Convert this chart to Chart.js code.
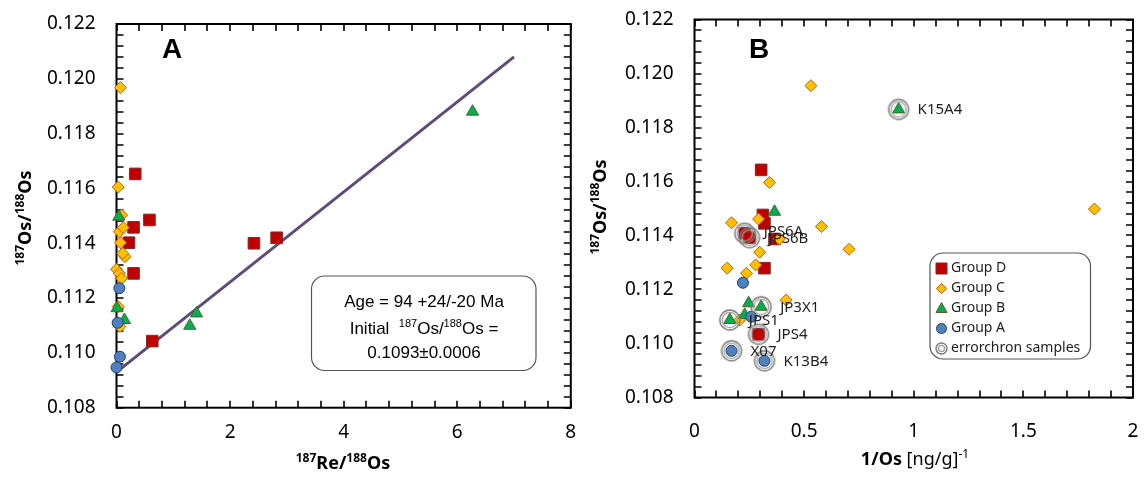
<!DOCTYPE html>
<html>
<head>
<meta charset="utf-8">
<script src="https://cdn.jsdelivr.net/npm/chart.js@4.4.1/dist/chart.umd.min.js"></script>
<style>
  body { margin: 0; background: #fff; }
  .wrap { position: absolute; top: 0; height: 479px; }
  #wrapA { left: 0; width: 580px; }
  #wrapB { left: 580px; width: 564px; }
</style>
</head>
<body>
<div class="wrap" id="wrapA"><canvas id="chartA" width="580" height="479"></canvas></div>
<div class="wrap" id="wrapB"><canvas id="chartB" width="564" height="479"></canvas></div>
<script>
// ---- panel A : 187Re/188Os vs 187Os/188Os ----
var aGroupD_re = [0.33, 0.58, 0.30, 0.22, 0.30, 0.63, 2.42, 2.82];
var aGroupD_os = [0.11653, 0.11485, 0.11458, 0.11402, 0.11290, 0.11043, 0.11400, 0.11420];
var aGroupC_re = [0.07, 0.03, 0.09, 0.05, 0.12, 0.07, 0.15, 0.11, 0.00, 0.05, 0.09, 0.03, 0.06];
var aGroupC_os = [0.11968, 0.11605, 0.11503, 0.11442, 0.11457, 0.11402, 0.11351, 0.11363, 0.11305, 0.11290, 0.11272, 0.11169, 0.11096];
var aGroupB_re = [0.04, 0.01, 0.14, 1.41, 1.29, 6.27];
var aGroupB_os = [0.11497, 0.11163, 0.11120, 0.11144, 0.11099, 0.11880];
var aGroupA_re = [0.05, 0.02, 0.06, 0.00];
var aGroupA_os = [0.11236, 0.11110, 0.10986, 0.10947];
var errorchronRe = [0, 7];
var errorchronOs = [0.1093, 0.1208];

// ---- panel B : 1/Os vs 187Os/188Os ----
var bGroupD_x = [0.304, 0.312, 0.319, 0.229, 0.251, 0.365, 0.319, 0.292];
var bGroupD_y = [0.11643, 0.11476, 0.11445, 0.11408, 0.11392, 0.11387, 0.11279, 0.11034];
var bGroupC_x = [0.531, 0.342, 0.169, 0.292, 0.579, 0.705, 0.387, 0.297, 0.149, 0.279, 0.237, 0.418, 0.206, 1.824];
var bGroupC_y = [0.11955, 0.11596, 0.11447, 0.11461, 0.11433, 0.11349, 0.11387, 0.11338, 0.11279, 0.11291, 0.11260, 0.11161, 0.11087, 0.11498];
var bGroupB_x = [0.365, 0.247, 0.304, 0.161, 0.229, 0.931];
var bGroupB_y = [0.11488, 0.11149, 0.11136, 0.11087, 0.11106, 0.11867];
var bGroupA_x = [0.221, 0.259, 0.169, 0.319];
var bGroupA_y = [0.11225, 0.11099, 0.10973, 0.10936];
var sampleNames = ['JPS6A', 'JPS6B', 'JP3X1', 'JPS1', 'JPS4', 'X07', 'K13B4', 'K15A4'];
var sampleX = [0.229, 0.251, 0.304, 0.161, 0.292, 0.169, 0.319, 0.931];
var sampleY = [0.11408, 0.11392, 0.11136, 0.11087, 0.11034, 0.10973, 0.10936, 0.11867];

var yTicksOs = [0.108, 0.122, 0.002];
var xMinorA = 0.4, xMinorB = 0.1, yMinorOs = 0.0004;

var SANS = "'Noto Sans', sans-serif";
var ARIAL = "'Liberation Sans', Arial, sans-serif";

function pts(xs, ys) {
  return xs.map(function (x, i) { return { x: x, y: ys[i] }; });
}

function drawRing(g, x, y, r) {
  g.lineWidth = 1.4;
  g.strokeStyle = '#7a7a7a';
  g.beginPath(); g.arc(x, y, r, 0, Math.PI * 2); g.stroke();
  g.strokeStyle = '#a0a0a0';
  g.beginPath(); g.arc(x, y, r - 2.4, 0, Math.PI * 2); g.stroke();
}

function makeRing(r) {
  var c = document.createElement('canvas');
  var s = Math.ceil(r * 2 + 4);
  c.width = s; c.height = s;
  drawRing(c.getContext('2d'), s / 2, s / 2, r);
  return c;
}

function partFont(p, size, family, bold) {
  var b = (p.bold !== undefined ? p.bold : bold) ? 'bold ' : '';
  return b + (p.sup ? Math.round(size * 0.65) : size) + 'px ' + family;
}

// text with superscripts, centred on (cx, cy)
function drawRich(ctx, parts, cx, cy, size, family, bold, rot) {
  ctx.save();
  ctx.translate(cx, cy);
  if (rot) ctx.rotate(rot);
  ctx.textAlign = 'left';
  ctx.textBaseline = 'alphabetic';
  ctx.fillStyle = '#000';
  var w = 0;
  parts.forEach(function (p) { ctx.font = partFont(p, size, family, bold); w += ctx.measureText(p.t).width; });
  var x = -w / 2;
  parts.forEach(function (p) {
    ctx.font = partFont(p, size, family, bold);
    ctx.fillText(p.t, x, size * 0.36 - (p.sup ? size * 0.4 : 0));
    x += ctx.measureText(p.t).width;
  });
  ctx.restore();
}

function roundBox(ctx, x0, y0, x1, y1, r) {
  ctx.beginPath();
  ctx.moveTo(x0 + r, y0);
  ctx.arcTo(x1, y0, x1, y1, r);
  ctx.arcTo(x1, y1, x0, y1, r);
  ctx.arcTo(x0, y1, x0, y0, r);
  ctx.arcTo(x0, y0, x1, y0, r);
  ctx.closePath();
  ctx.fillStyle = '#fff';
  ctx.fill();
  ctx.strokeStyle = '#555';
  ctx.lineWidth = 1.2;
  ctx.stroke();
}

function legendMarker(ctx, ds, x, y) {
  ctx.save();
  ctx.fillStyle = ds.backgroundColor;
  ctx.strokeStyle = ds.borderColor;
  ctx.lineWidth = 1;
  ctx.beginPath();
  if (ds.pointStyle === 'rect') {
    ctx.rect(x - 5.5, y - 5.5, 11, 11);
  } else if (ds.pointStyle === 'rectRot') {
    ctx.moveTo(x, y - 5); ctx.lineTo(x + 5, y); ctx.lineTo(x, y + 5); ctx.lineTo(x - 5, y);
    ctx.closePath();
  } else if (ds.pointStyle === 'triangle') {
    ctx.moveTo(x, y - 6); ctx.lineTo(x + 5.5, y + 4); ctx.lineTo(x - 5.5, y + 4);
    ctx.closePath();
  } else if (ds.pointStyle === 'circle') {
    ctx.arc(x, y, 5, 0, Math.PI * 2);
  } else {
    drawRing(ctx, x, y, 5.5);
    ctx.restore();
    return;
  }
  ctx.fill();
  ctx.stroke();
  ctx.restore();
}

// box frame with inward ticks on all four sides
function drawFrame(chart, xMinor, yMinor) {
  var ctx = chart.ctx, a = chart.chartArea;
  var xs = chart.scales.x, ys = chart.scales.y;
  var nx = Math.round((xs.max - xs.min) / xMinor);
  var ny = Math.round((ys.max - ys.min) / yMinor);
  ctx.save();
  ctx.strokeStyle = '#000';
  ctx.lineWidth = 1.6;
  ctx.beginPath();
  for (var i = 0; i <= nx; i++) {
    var px = Math.round(xs.getPixelForValue(xs.min + i * xMinor));
    ctx.moveTo(px, a.bottom); ctx.lineTo(px, a.bottom - 7);
    ctx.moveTo(px, a.top); ctx.lineTo(px, a.top + 7);
  }
  for (var j = 0; j <= ny; j++) {
    var py = Math.round(ys.getPixelForValue(ys.min + j * yMinor));
    ctx.moveTo(a.left, py); ctx.lineTo(a.left + 7, py);
    ctx.moveTo(a.right, py); ctx.lineTo(a.right - 7, py);
  }
  ctx.stroke();
  ctx.lineWidth = 2;
  ctx.strokeRect(a.left, a.top, a.right - a.left, a.bottom - a.top);
  ctx.restore();
}

var decor = {
  id: 'decor',
  beforeDatasetsDraw: function (chart) {
    var isA = chart.canvas.id === 'chartA';
    drawFrame(chart, isA ? xMinorA : xMinorB, yMinorOs);
  },
  afterDatasetsDraw: function (chart, args, o) {
    var ctx = chart.ctx;
    var xs = chart.scales.x, ys = chart.scales.y;
    ctx.save();
    // panel letter
    ctx.font = 'bold 28px ' + ARIAL;
    ctx.fillStyle = '#000';
    ctx.textAlign = 'center';
    ctx.textBaseline = 'middle';
    ctx.fillText(o.letter.text, o.letter.x, o.letter.y);
    // axis titles
    o.titles.forEach(function (t) {
      drawRich(ctx, t.parts, t.x, t.y, 18, SANS, true, t.rot);
    });
    // age box
    if (o.note) {
      var n = o.note;
      roundBox(ctx, n.box[0], n.box[1], n.box[2], n.box[3], 13);
      n.lines.forEach(function (ln, k) {
        drawRich(ctx, ln, n.cx, n.ys[k], 17, ARIAL, false, 0);
      });
    }
    // sample labels
    if (o.labels) {
      ctx.font = '15px ' + SANS;
      ctx.fillStyle = '#222';
      ctx.textAlign = 'left';
      ctx.textBaseline = 'middle';
      o.labels.names.forEach(function (name, k) {
        var dy = name === 'JPS6A' ? -2 : (name === 'JPS6B' ? 1.5 : 0.5);
        ctx.fillText(name, xs.getPixelForValue(o.labels.x[k]) + 19, ys.getPixelForValue(o.labels.y[k]) + dy);
      });
    }
    // legend box
    if (o.legendBox) {
      var L = o.legendBox;
      roundBox(ctx, L.x0, L.y0, L.x1, L.y1, 13);
      var list = chart.data.datasets.slice().reverse();
      ctx.font = '14px ' + SANS;
      list.forEach(function (ds, k) {
        var y = L.y0 + 15.5 + k * 20;
        legendMarker(ctx, ds, L.x0 + 11.5, y);
        ctx.fillStyle = '#222';
        ctx.textAlign = 'left';
        ctx.textBaseline = 'middle';
        ctx.fillText(ds.label, L.x0 + 21, y);
      });
    }
    ctx.restore();
  }
};

function groupSets(ax, ay, bx, by, cx, cy, dx, dy) {
  return [
    { label: 'Group A', data: pts(ax, ay), pointStyle: 'circle', pointRadius: 5.5,
      backgroundColor: '#4F81BD', borderColor: '#233F6B', borderWidth: 1, clip: false },
    { label: 'Group B', data: pts(bx, by), pointStyle: 'triangle', pointRadius: 7,
      backgroundColor: '#00B050', borderColor: '#4F6228', borderWidth: 1, clip: false },
    { label: 'Group C', data: pts(cx, cy), pointStyle: 'rectRot', pointRadius: 6,
      backgroundColor: '#FFC000', borderColor: '#C55A11', borderWidth: 1, clip: false },
    { label: 'Group D', data: pts(dx, dy), pointStyle: 'rect', pointRadius: 8.2,
      backgroundColor: '#C00000', borderColor: '#7F2A2A', borderWidth: 1, clip: false }
  ];
}

// label gap comes from an invisible tick length so that ticks.padding
// does not widen the chart's outer padding
function yScale(gap, width) {
  return {
    min: yTicksOs[0], max: yTicksOs[1],
    grid: { display: false, drawTicks: true, tickLength: gap }, border: { display: false },
    ticks: { stepSize: yTicksOs[2], padding: 0, color: '#000',
      font: { family: SANS, size: 19 },
      callback: function (v) { return Number(v).toFixed(3); } },
    afterFit: function (s) { s.width = width; }
  };
}

function xScale(max, step, gap, height) {
  return {
    type: 'linear', min: 0, max: max,
    grid: { display: false, drawTicks: true, tickLength: gap }, border: { display: false },
    ticks: { stepSize: step, padding: 0, color: '#000', maxRotation: 0,
      font: { family: SANS, size: 19 },
      callback: function (v) { return String(Number(Number(v).toFixed(2))); } },
    afterFit: function (s) { s.height = height; }
  };
}

var setsA = groupSets(aGroupA_re, aGroupA_os, aGroupB_re, aGroupB_os, aGroupC_re, aGroupC_os, aGroupD_re, aGroupD_os);
setsA.push({ label: 'errorchron', data: pts(errorchronRe, errorchronOs), showLine: true,
  borderColor: '#604A7B', borderWidth: 3, pointRadius: 0, backgroundColor: '#604A7B', clip: false });

var supOs = [{ t: '187', sup: true }, { t: 'Os/' }, { t: '188', sup: true }, { t: 'Os' }];

new Chart(document.getElementById('chartA').getContext('2d'), {
  type: 'scatter',
  data: { datasets: setsA },
  options: {
    responsive: false, animation: false, events: [], devicePixelRatio: 1,
    layout: { padding: { left: 0, top: 24, right: 8, bottom: 0 } },
    scales: { x: xScale(8, 2, 13, 479 - 407.7), y: yScale(21, 116.5) },
    plugins: {
      legend: { display: false }, tooltip: { enabled: false },
      decor: {
        letter: { text: 'A', x: 172, y: 50 },
        titles: [
          { parts: [{ t: '187', sup: true }, { t: 'Re/' }, { t: '188', sup: true }, { t: 'Os' }], x: 343, y: 463, rot: 0 },
          { parts: supOs, x: 25, y: 218, rot: -Math.PI / 2 }
        ],
        note: {
          box: [311.5, 276, 536, 370.5], cx: 424, ys: [300.5, 328, 351.5],
          lines: [
            [{ t: 'Age = 94 +24/-20 Ma' }],
            [{ t: 'Initial  ' }, { t: '187', sup: true }, { t: 'Os/' }, { t: '188', sup: true }, { t: 'Os =' }],
            [{ t: '0.1093\u00b10.0006' }]
          ]
        }
      }
    }
  },
  plugins: [decor]
});

var setsB = groupSets(bGroupA_x, bGroupA_y, bGroupB_x, bGroupB_y, bGroupC_x, bGroupC_y, bGroupD_x, bGroupD_y);
setsB.unshift({ label: 'errorchron samples', data: pts(sampleX, sampleY), pointStyle: makeRing(10),
  pointRadius: 10, backgroundColor: 'rgba(0,0,0,0)', borderColor: '#7a7a7a', clip: false });

new Chart(document.getElementById('chartB').getContext('2d'), {
  type: 'scatter',
  data: { datasets: setsB },
  options: {
    responsive: false, animation: false, events: [], devicePixelRatio: 1,
    layout: { padding: { left: 0, top: 19.5, right: 8, bottom: 0 } },
    scales: { x: xScale(2, 0.5, 23, 479 - 397.5), y: yScale(21, 114.5) },
    plugins: {
      legend: { display: false }, tooltip: { enabled: false },
      decor: {
        letter: { text: 'B', x: 179, y: 50.5 },
        titles: [
          { parts: [{ t: '1/Os' }, { t: ' [ng/g]', bold: false }, { t: '-1', sup: true, bold: false }], x: 335, y: 459, rot: 0 },
          { parts: supOs, x: 20, y: 207, rot: -Math.PI / 2 }
        ],
        labels: { names: sampleNames, x: sampleX, y: sampleY },
        legendBox: { x0: 350, y0: 253, x1: 510.5, y1: 359 }
      }
    }
  },
  plugins: [decor]
});
</script>
</body>
</html>
